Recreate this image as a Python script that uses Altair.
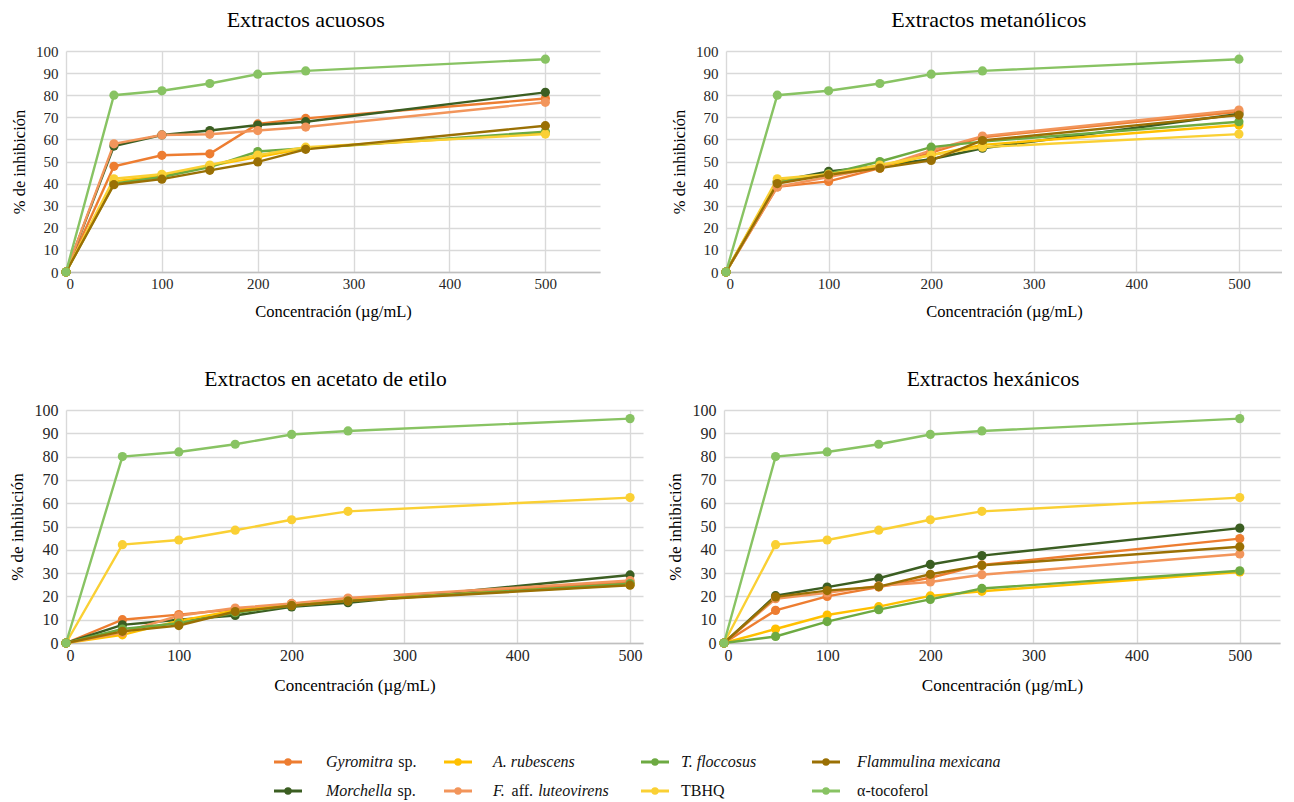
import altair as alt
import pandas as pd

# ---------------- data ----------------
conc = [0, 50, 100, 150, 200, 250, 500]

series = ["Gyromitra sp.", "Morchella sp.", "A. rubescens", "F. aff. luteovirens",
          "T. floccosus", "TBHQ", "Flammulina mexicana", "α-tocoferol"]
colors = ["#ED7D31", "#3B5E22", "#FFC000", "#F2955B",
          "#6DAA42", "#FAD034", "#9A7004", "#88C363"]

tbhq = [0, 42.2, 44.2, 48.4, 52.9, 56.5, 62.4]
tocoferol = [0, 80.0, 82.0, 85.3, 89.5, 91.0, 96.3]

# Extractos acuosos
acu_gyromitra = [0, 47.8, 52.8, 53.5, 67.0, 69.5, 78.5]
acu_morchella = [0, 57.0, 62.0, 64.0, 66.5, 68.0, 81.3]
acu_rubescens = [0, 41.0, 43.5, 48.0, 52.0, 56.0, 63.0]
acu_luteovirens = [0, 58.0, 62.0, 62.3, 64.0, 65.6, 76.8]
acu_floccosus = [0, 40.0, 43.0, 47.5, 54.5, 56.0, 63.5]
acu_flammulina = [0, 39.5, 42.0, 46.0, 49.8, 55.5, 66.2]

# Extractos metanólicos
met_gyromitra = [0, 38.5, 41.0, 47.0, 54.0, 61.0, 72.5]
met_morchella = [0, 41.0, 45.5, 48.0, 51.0, 56.0, 71.5]
met_rubescens = [0, 41.0, 44.0, 47.5, 53.0, 57.5, 66.5]
met_luteovirens = [0, 38.5, 43.0, 47.5, 55.0, 61.5, 73.3]
met_floccosus = [0, 40.5, 44.5, 50.0, 56.5, 59.0, 68.0]
met_flammulina = [0, 40.0, 44.0, 47.0, 50.5, 59.5, 71.0]

# Extractos en acetato de etilo
ace_gyromitra = [0, 10.0, 12.2, 14.5, 16.8, 19.0, 26.0]
ace_morchella = [0, 7.8, 10.0, 11.8, 15.5, 17.3, 29.2]
ace_rubescens = [0, 3.5, 9.5, 14.0, 16.5, 18.5, 25.0]
ace_luteovirens = [0, 4.5, 11.7, 15.0, 17.0, 19.3, 26.8]
ace_floccosus = [0, 6.0, 8.5, 13.0, 16.0, 18.0, 25.5]
ace_flammulina = [0, 5.0, 7.5, 13.5, 16.0, 18.0, 24.8]

# Extractos hexánicos
hex_gyromitra = [0, 14.0, 20.0, 24.0, 28.0, 33.5, 44.8]
hex_morchella = [0, 20.3, 24.0, 27.8, 33.7, 37.5, 49.3]
hex_rubescens = [0, 6.0, 12.0, 15.6, 20.2, 22.2, 30.5]
hex_luteovirens = [0, 19.0, 21.5, 24.5, 26.2, 29.3, 38.2]
hex_floccosus = [0, 2.8, 9.2, 14.3, 18.7, 23.4, 31.0]
hex_flammulina = [0, 19.8, 22.5, 24.2, 29.5, 33.3, 41.3]

x_ticks = [0, 100, 200, 300, 400, 500]
y_ticks = list(range(0, 101, 10))

# legend labels: (text, italic?) segments
legend_order = ["Gyromitra sp.", "A. rubescens", "T. floccosus", "Flammulina mexicana",
                "Morchella sp.", "F. aff. luteovirens", "TBHQ", "α-tocoferol"]
legend_segments = {
    "Gyromitra sp.": [("Gyromitra", True), ("sp.", False)],
    "A. rubescens": [("A. rubescens", True)],
    "T. floccosus": [("T. floccosus", True)],
    "Flammulina mexicana": [("Flammulina mexicana", True)],
    "Morchella sp.": [("Morchella", True), ("sp.", False)],
    "F. aff. luteovirens": [("F.", True), ("aff.", False), ("luteovirens", True)],
    "TBHQ": [("TBHQ", False)],
    "α-tocoferol": [("α-tocoferol", False)],
}

FONT = "Liberation Serif"


def panel_df(vals):
    rows = []
    for s, v in zip(series, vals):
        for c, p in zip(conc, v):
            rows.append({"conc": c, "pct": p, "serie": s})
    return pd.DataFrame(rows)


def panel(title, vals, width, height, xmax, lab_size, title_size, head_size, dx, xpad):
    df = panel_df(vals)
    base = alt.Chart(df).encode(
        x=alt.X("conc:Q",
                scale=alt.Scale(domain=[0, xmax], nice=False, zero=True),
                axis=alt.Axis(values=x_ticks, title="Concentración (µg/mL)",
                              labelFontSize=lab_size, titleFontSize=title_size,
                              titlePadding=xpad)),
        y=alt.Y("pct:Q",
                scale=alt.Scale(domain=[0, 100], nice=False),
                axis=alt.Axis(values=y_ticks, title="% de inhibición",
                              labelFontSize=lab_size, titleFontSize=title_size)),
        color=alt.Color("serie:N", scale=alt.Scale(domain=series, range=colors), legend=None),
        detail="serie:N",
    )
    line = base.mark_line(strokeWidth=2.4)
    pts = base.mark_point(filled=True, size=85, opacity=1)
    return alt.layer(line, pts).properties(
        width=width, height=height,
        title=alt.TitleParams(title, font=FONT, fontSize=head_size, fontWeight="normal",
                              color="#000000", anchor="middle", frame="bounds",
                              offset=12, dx=dx),
    )


p1 = panel("Extractos acuosos",
           [acu_gyromitra, acu_morchella, acu_rubescens, acu_luteovirens,
            acu_floccosus, tbhq, acu_flammulina, tocoferol],
           534, 221, 557, 15, 16.5, 22, 0, 12)
p2 = panel("Extractos metanólicos",
           [met_gyromitra, met_morchella, met_rubescens, met_luteovirens,
            met_floccosus, tbhq, met_flammulina, tocoferol],
           556, 221, 542, 15, 16.5, 22, 12, 12)
p3 = panel("Extractos en acetato de etilo",
           [ace_gyromitra, ace_morchella, ace_rubescens, ace_luteovirens,
            ace_floccosus, tbhq, ace_flammulina, tocoferol],
           577, 233, 511.5, 16, 17, 21.5, 0, 14)
p4 = panel("Extractos hexánicos",
           [hex_gyromitra, hex_morchella, hex_rubescens, hex_luteovirens,
            hex_floccosus, tbhq, hex_flammulina, tocoferol],
           556, 233, 539, 16, 17, 21.5, 20, 14)

# ---------------- custom legend (mixed italic / roman labels) ----------------
ROMAN = {"a": 444, "b": 500, "c": 444, "d": 500, "e": 444, "f": 333, "g": 500, "h": 500,
         "i": 278, "j": 278, "k": 500, "l": 278, "m": 778, "n": 500, "o": 500, "p": 500,
         "q": 500, "r": 333, "s": 389, "t": 278, "u": 500, "v": 500, "w": 722, "x": 500,
         "y": 500, "z": 444, " ": 250, ".": 250, "-": 333,
         "T": 611, "B": 667, "H": 722, "Q": 722}
ITALIC = {"a": 500, "b": 500, "c": 444, "d": 500, "e": 444, "f": 278, "g": 500, "h": 500,
          "i": 278, "j": 278, "k": 444, "l": 278, "m": 722, "n": 500, "o": 500, "p": 500,
          "q": 500, "r": 389, "s": 389, "t": 278, "u": 500, "v": 444, "w": 667, "x": 444,
          "y": 444, "z": 389, " ": 250, ".": 250, "-": 333,
          "A": 611, "F": 611, "G": 722, "M": 833, "T": 556}
LEG_FS = 16


def text_width(t, italic):
    tab = ITALIC if italic else ROMAN
    return sum(tab.get(ch, 500) for ch in t) * LEG_FS / 1000.0


col_sym_x = [222, 392, 589, 760]
col_txt_x = [260, 427, 615, 791]
row_y = [21, 50]

sym_rows, txt_rows = [], []
for i, s in enumerate(legend_order):
    c, r = i % 4, i // 4
    sym_rows.append({"serie": s, "xc": col_sym_x[c], "x1": col_sym_x[c] - 14,
                     "x2": col_sym_x[c] + 14, "y": row_y[r]})
    off = 0.0
    for t, it in legend_segments[s]:
        txt_rows.append({"t": t, "italic": it, "x": col_txt_x[c] + off, "y": row_y[r]})
        off += text_width(t, it) + LEG_FS * 0.3
sym_df = pd.DataFrame(sym_rows)
txt_df = pd.DataFrame(txt_rows)

cscale = alt.Scale(domain=series, range=colors)
leg_rule = alt.Chart(sym_df).mark_rule(strokeWidth=3).encode(
    x=alt.X("x1:Q", scale=None, axis=None), x2="x2:Q",
    y=alt.Y("y:Q", scale=None, axis=None),
    color=alt.Color("serie:N", scale=cscale, legend=None))
leg_pt = alt.Chart(sym_df).mark_point(filled=True, size=55, opacity=1).encode(
    x=alt.X("xc:Q", scale=None, axis=None),
    y=alt.Y("y:Q", scale=None, axis=None),
    color=alt.Color("serie:N", scale=cscale, legend=None))
leg_it = alt.Chart(txt_df).transform_filter("datum.italic").mark_text(
    align="left", baseline="middle", font=FONT, fontSize=LEG_FS, fontStyle="italic",
    color="#111111").encode(
    x=alt.X("x:Q", scale=None, axis=None), y=alt.Y("y:Q", scale=None, axis=None), text="t:N")
leg_rm = alt.Chart(txt_df).transform_filter("!datum.italic").mark_text(
    align="left", baseline="middle", font=FONT, fontSize=LEG_FS,
    color="#111111").encode(
    x=alt.X("x:Q", scale=None, axis=None), y=alt.Y("y:Q", scale=None, axis=None), text="t:N")
legend = alt.layer(leg_rule, leg_pt, leg_it, leg_rm).properties(width=1150, height=60)

top = alt.hconcat(p1, p2, spacing=71)
bottom = alt.hconcat(p3, p4, spacing=23)

chart = alt.vconcat(top, bottom, legend, spacing=48).properties(
    padding={"left": 0, "top": 1, "right": 0, "bottom": 0}
).configure_view(strokeWidth=0).configure_axis(
    labelFont=FONT, titleFont=FONT, labelColor="#262626", titleColor="#000000",
    titleFontWeight="normal", gridColor="#D9D9D9", gridWidth=1.4,
    domainColor="#BFBFBF", domainWidth=1.4, ticks=False,
).configure_axisX(labelPadding=4, domain=True, grid=True
).configure_axisY(labelPadding=8, titlePadding=8, domain=False, grid=True)

chart.save("out.html", embed_options={"renderer": "svg", "actions": False})
